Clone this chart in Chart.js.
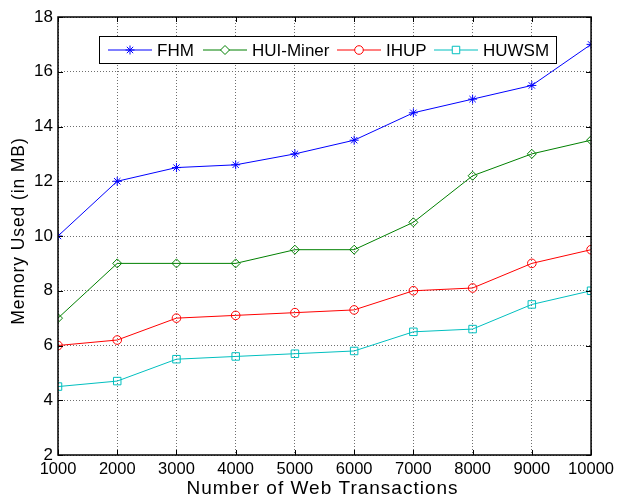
<!DOCTYPE html>
<html>
<head>
<meta charset="utf-8">
<script src="https://cdn.jsdelivr.net/npm/chart.js@4"></script>
<style>
  html,body{margin:0;padding:0;background:#fff;}
  #wrap{width:619px;height:500px;}
</style>
</head>
<body>
<div id="wrap"><canvas id="chart" width="619" height="500"></canvas></div>
<script>
// Memory usage vs number of web transactions
const transactions = [1000, 2000, 3000, 4000, 5000, 6000, 7000, 8000, 9000, 10000];
const fhm      = [10, 12, 12.5, 12.6, 13, 13.5, 14.5, 15, 15.5, 17];
const huiMiner = [7, 9, 9, 9, 9.5, 9.5, 10.5, 12.2, 13, 13.5];
const ihup     = [6, 6.2, 7, 7.1, 7.2, 7.3, 8, 8.1, 9, 9.5];
const huwsm    = [4.5, 4.7, 5.5, 5.6, 5.7, 5.8, 6.5, 6.6, 7.5, 8];
const seriesNames = ['FHM', 'HUI-Miner', 'IHUP', 'HUWSM'];
const xTicks = [1000, 2000, 3000, 4000, 5000, 6000, 7000, 8000, 9000, 10000];
const yTicks = [2, 4, 6, 8, 10, 12, 14, 16, 18];
const xTitle = 'Number of Web Transactions';
const yTitle = 'Memory Used (in MB)';

const FONT = '"Liberation Sans", Arial, sans-serif';

function mkSet(label, vals, color, style, r) {
  return {
    label: label,
    data: transactions.map((x, i) => ({x: x, y: vals[i]})),
    borderColor: color, backgroundColor: 'rgba(0,0,0,0)',
    borderWidth: 1, pointStyle: style, pointRadius: r, pointHoverRadius: r,
    pointBorderColor: color, pointBorderWidth: 1, tension: 0
  };
}

// box, inward ticks, titles and legend like the matlab figure
const boxPlugin = {
  id: 'box',
  afterDraw(chart) {
    const ctx = chart.ctx, a = chart.chartArea;
    const xs = chart.scales.x, ys = chart.scales.y;
    ctx.save();
    ctx.strokeStyle = '#000'; ctx.lineWidth = 1;
    ctx.beginPath();
    yTicks.forEach(v => {
      const y = Math.round(ys.getPixelForValue(v)) + 0.5;
      ctx.moveTo(a.left, y); ctx.lineTo(a.left + 5, y);
      ctx.moveTo(a.right, y); ctx.lineTo(a.right - 5, y);
    });
    xTicks.forEach(v => {
      const x = Math.round(xs.getPixelForValue(v)) + 0.5;
      ctx.moveTo(x, a.bottom); ctx.lineTo(x, a.bottom - 5);
      ctx.moveTo(x, a.top); ctx.lineTo(x, a.top + 5);
    });
    ctx.stroke();
    ctx.lineWidth = 1.5;
    ctx.strokeRect(a.left, a.top, a.right - a.left, a.bottom - a.top);

    // x title (wider lettering than canvas default)
    ctx.fillStyle = '#000';
    ctx.font = '19px ' + FONT;
    ctx.letterSpacing = '1px';
    ctx.textAlign = 'center';
    ctx.textBaseline = 'middle';
    ctx.fillText(xTitle, (a.left + a.right) / 2 - 2, 489);

    // y title
    ctx.save();
    ctx.translate(19, 231);
    ctx.rotate(-Math.PI / 2);
    ctx.font = '17.5px ' + FONT;
    ctx.letterSpacing = '0.9px';
    ctx.fillText(yTitle, 0, 0);
    ctx.restore();
    ctx.letterSpacing = '0px';

    // legend
    const lx = 99.5, ly = 36.5, lw = 457, lh = 27;
    ctx.fillStyle = '#fff';
    ctx.fillRect(lx, ly, lw, lh);
    ctx.lineWidth = 1;
    ctx.strokeStyle = '#000';
    ctx.strokeRect(lx, ly, lw, lh);
    const starts = [108, 203, 337, 434];
    ctx.font = '17px ' + FONT;
    ctx.textAlign = 'left';
    chart.data.datasets.forEach((ds, i) => {
      const x0 = starts[i], cy = ly + lh / 2;
      ctx.strokeStyle = ds.borderColor;
      ctx.lineWidth = 1;
      ctx.beginPath(); ctx.moveTo(x0, cy); ctx.lineTo(x0 + 44, cy); ctx.stroke();
      ctx.fillStyle = '#fff';
      Chart.helpers.drawPoint(ctx, {pointStyle: ds.pointStyle, radius: ds.pointRadius, borderWidth: 1, rotation: 0}, x0 + 22, cy);
      ctx.fillStyle = '#000';
      ctx.fillText(seriesNames[i], x0 + 49, cy + 1);
    });
    ctx.restore();
  }
};

new Chart(document.getElementById('chart'), {
  type: 'line',
  data: {
    datasets: [
      mkSet(seriesNames[0], fhm, '#0000ff', 'star', 4.5),
      mkSet(seriesNames[1], huiMiner, '#008000', 'rectRot', 4.5),
      mkSet(seriesNames[2], ihup, '#ff0000', 'circle', 4.3),
      mkSet(seriesNames[3], huwsm, '#00bfbf', 'rect', 5.3)
    ]
  },
  options: {
    responsive: false, animation: false,
    layout: {padding: {top: 17, right: 26, left: 0, bottom: 0}},
    plugins: {legend: {display: false}, tooltip: {enabled: false}},
    scales: {
      x: {
        type: 'linear', min: 1000, max: 10000,
        afterBuildTicks(s) { s.ticks = xTicks.map(v => ({value: v})); },
        afterFit(s) { s.height = 45; },
        grid: {color: '#6e6e6e', lineWidth: 1, drawTicks: false},
        border: {display: false, dash: [1, 2]},
        ticks: {color: '#000', font: {family: FONT, size: 16.5}, padding: 5, maxRotation: 0, autoSkip: false,
                callback: v => String(v)},
        title: {display: false, text: xTitle}
      },
      y: {
        min: 2, max: 18,
        afterBuildTicks(s) { s.ticks = yTicks.map(v => ({value: v})); },
        afterFit(s) { s.width = 58; },
        grid: {color: '#6e6e6e', lineWidth: 1, drawTicks: false},
        border: {display: false, dash: [1, 2]},
        ticks: {color: '#000', font: {family: FONT, size: 17}, padding: 5},
        title: {display: false, text: yTitle}
      }
    }
  },
  plugins: [boxPlugin]
});
</script>
</body>
</html>
